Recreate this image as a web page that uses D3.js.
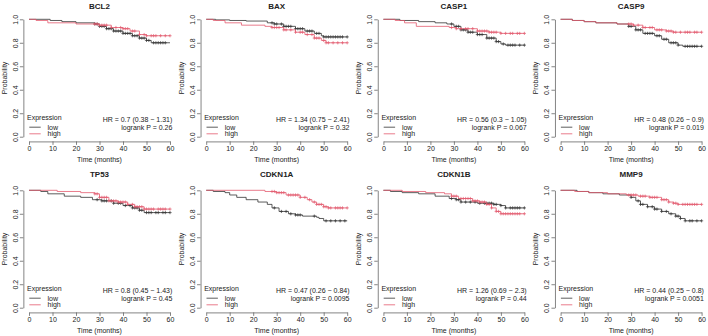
<!DOCTYPE html>
<html lang="en">
<head>
<meta charset="UTF-8">
<title>KM curves</title>
<script src="https://d3js.org/d3.v7.min.js"></script>
<style>
  body { margin: 0; background: #fff; }
  svg text { font-family: "Liberation Sans", Arial, sans-serif; fill: #222; }
</style>
</head>
<body>
<div id="chart"></div>
<script>
// panel titles and stats
var genes = ["BCL2", "BAX", "CASP1", "CASP9", "TP53", "CDKN1A", "CDKN1B", "MMP9"];
var hrText = ["0.7 (0.38 \u2212 1.31)", "1.34 (0.75 \u2212 2.41)", "0.56 (0.3 \u2212 1.05)", "0.48 (0.26 \u2212 0.9)",
              "0.8 (0.45 \u2212 1.43)", "0.47 (0.26 \u2212 0.84)", "1.26 (0.69 \u2212 2.3)", "0.44 (0.25 \u2212 0.8)"];
var pText = ["0.26", "0.32", "0.067", "0.019", "0.45", "0.0095", "0.44", "0.0051"];

var xTicks = [0, 10, 20, 30, 40, 50, 60];
var yTicks = [0, 0.2, 0.4, 0.6, 0.8, 1.0];

// step curves [time, survival]
var lowSteps = [
  [[0,1],[9,0.99],[14,0.98],[20,0.97],[28,0.96],[30,0.94],[33,0.92],[36,0.90],[40,0.88],[44,0.86],[47,0.84],[50,0.82],[52,0.80],[60,0.80]],
  [[0,1],[4,0.995],[10,0.99],[17,0.985],[26,0.97],[29,0.96],[33,0.94],[38,0.92],[42,0.90],[46,0.88],[49,0.86],[50,0.85],[60,0.85]],
  [[0,1],[7,0.99],[15,0.98],[22,0.97],[27,0.96],[30,0.94],[33,0.91],[36,0.89],[40,0.87],[44,0.84],[48,0.81],[50,0.79],[52,0.78],[60,0.78]],
  [[0,1],[5,0.99],[10,0.98],[15,0.97],[24,0.96],[29,0.94],[32,0.91],[35,0.88],[40,0.86],[43,0.83],[46,0.80],[50,0.78],[52,0.77],[60,0.77]],
  [[0,1],[5,0.99],[8,0.97],[15,0.95],[22,0.94],[27,0.92],[31,0.91],[36,0.89],[40,0.87],[44,0.85],[47,0.83],[49,0.81],[60,0.81]],
  [[0,1],[3,0.99],[8,0.98],[10,0.96],[13,0.94],[17,0.92],[22,0.90],[26,0.88],[28,0.85],[31,0.82],[35,0.80],[38,0.79],[41,0.78],[47,0.77],[48,0.76],[50,0.74],[60,0.74]],
  [[0,1],[3,0.99],[8,0.98],[15,0.97],[22,0.95],[28,0.93],[31,0.92],[33,0.90],[40,0.89],[47,0.88],[50,0.87],[52,0.85],[60,0.85]],
  [[0,1],[7,0.99],[12,0.98],[18,0.97],[25,0.96],[30,0.94],[32,0.91],[34,0.88],[37,0.86],[40,0.84],[43,0.82],[46,0.80],[49,0.78],[51,0.76],[53,0.74],[60,0.74]]
];
var highSteps = [
  [[0,1],[3,0.99],[8,0.97],[20,0.96],[30,0.95],[35,0.93],[40,0.92],[43,0.90],[47,0.87],[50,0.86],[60,0.86]],
  [[0,1],[3,0.99],[8,0.97],[15,0.95],[25,0.94],[28,0.93],[33,0.91],[38,0.89],[42,0.87],[46,0.84],[49,0.82],[51,0.80],[60,0.80]],
  [[0,1],[5,0.99],[9,0.97],[14,0.94],[28,0.93],[31,0.92],[40,0.90],[45,0.89],[50,0.88],[60,0.88]],
  [[0,1],[5,0.99],[10,0.98],[15,0.97],[24,0.96],[31,0.95],[35,0.93],[40,0.91],[45,0.90],[48,0.89],[60,0.89]],
  [[0,1],[12,0.99],[22,0.98],[28,0.97],[30,0.94],[34,0.91],[38,0.90],[42,0.88],[45,0.86],[49,0.84],[60,0.84]],
  [[0,1],[25,0.99],[30,0.98],[34,0.96],[40,0.94],[43,0.92],[45,0.90],[47,0.88],[50,0.86],[52,0.85],[60,0.85]],
  [[0,1],[8,0.99],[18,0.98],[26,0.97],[29,0.95],[32,0.93],[38,0.91],[41,0.90],[44,0.88],[46,0.85],[48,0.82],[50,0.80],[60,0.80]],
  [[0,1],[6,0.99],[12,0.98],[20,0.97],[28,0.96],[33,0.95],[38,0.94],[43,0.92],[46,0.90],[48,0.89],[50,0.88],[60,0.88]]
];

// censoring times (months)
var lowCensor = [
  [28,29,30,31,32,33,34,35,36,37,38,39,40,41,42,43,44,45,46,47,48,49,50,51,53,54,55,56,57,58],
  [28,29,30,32,33,34,35,36,38,39,40,41,43,44,45,47,48,50,51,52,53,54,55,56,57,58,60],
  [29,31,32,33,34,35,36,37,38,40,41,42,44,45,46,47,48,49,51,53,54,55,56,58,60],
  [29,30,32,33,34,36,37,38,39,41,42,44,45,47,48,49,50,53,54,55,56,57,58,60],
  [29,31,32,33,35,36,38,39,41,43,44,45,46,47,48,50,51,52,54,55,57,58,60],
  [29,32,34,36,38,39,40,46,51,53,55,57,59],
  [29,31,32,33,35,37,39,41,43,44,45,46,47,48,50,52,54,55,56,57,58,60],
  [30,33,34,35,37,39,40,41,43,45,47,49,50,51,53,55,56,58,60]
];
var highCensor = [
  [28,29,30,31,32,33,35,37,39,40,41,42,44,45,47,49,50,52,53,54,56,58,60],
  [28,29,30,31,33,34,36,38,40,41,43,45,46,47,48,50,51,52,54,56,58,60],
  [29,31,33,35,36,38,40,41,42,43,44,45,46,47,48,50,52,54,55,57,58,60],
  [29,30,31,33,35,36,38,39,41,42,43,45,46,47,48,49,51,53,54,55,57,58,60],
  [28,29,30,31,32,33,34,35,36,37,38,39,40,41,42,44,45,46,47,48,49,50,51,52,53,55,56,57,58,60],
  [28,29,30,31,32,33,35,36,37,38,39,40,42,44,46,47,48,49,50,51,52,53,55,56,57,58,60],
  [29,30,31,33,34,35,36,37,38,39,40,41,42,43,44,45,46,48,49,50,51,52,53,54,55,56,57,58,60],
  [29,30,31,32,34,35,36,38,39,40,41,43,44,45,46,48,49,50,52,53,54,55,56,57,58,60]
];

var lowColor = "#333333", highColor = "#e35a6e";

var W = 708, H = 336;
var svg = d3.select("#chart").append("svg").attr("width", W).attr("height", H);

var colStep = 177.2, rowOffsets = [0, 171], titleY = [8.6, 5.6];

var x = d3.scaleLinear().domain([0, 60]).range([29, 170]);
var y = d3.scaleLinear().domain([0, 1]).range([136.7, 19.3]);
var left = x(-2.4), right = x(62.4), top = y(1.04), bottom = y(-0.04);

var line = d3.line().x(d => x(d[0])).y(d => y(d[1])).curve(d3.curveStepAfter);
var bis = d3.bisector(d => d[0]).right;
function survAt(steps, t) { return steps[Math.max(0, bis(steps, t) - 1)][1]; }

genes.forEach(function(g, i) {
  var col = i % 4, row = Math.floor(i / 4);
  var p = svg.append("g").attr("transform", "translate(" + (col * colStep) + "," + rowOffsets[row] + ")");

  // title
  p.append("text").attr("x", (left + right) / 2).attr("y", titleY[row])
    .attr("text-anchor", "middle").style("font-size", "8px").style("font-weight", "bold").text(g);

  // curves
  [[lowSteps[i], lowCensor[i], lowColor], [highSteps[i], highCensor[i], highColor]].forEach(function(s) {
    p.append("path").attr("d", line(s[0])).attr("fill", "none")
      .attr("stroke", s[2]).attr("stroke-width", 0.8);
    p.append("g").selectAll("path").data(s[1]).enter().append("path")
      .attr("transform", t => "translate(" + x(t) + "," + y(survAt(s[0], t)) + ")")
      .attr("d", "M-1.6,0h3.2M0,-1.6v3.2")
      .attr("stroke", s[2]).attr("stroke-width", 0.7);
  });

  // box
  p.append("rect").attr("x", left).attr("y", top).attr("width", right - left).attr("height", bottom - top)
    .attr("fill", "none").attr("stroke", "#666").attr("stroke-width", 0.8);

  // x axis
  var xa = p.append("g").attr("transform", "translate(0," + bottom + ")")
    .call(d3.axisBottom(x).tickValues(xTicks).tickSize(3.5).tickSizeOuter(0).tickPadding(1.2));
  xa.selectAll("text").style("font-size", "7px").attr("fill", "#333");

  // y axis
  var ya = p.append("g").attr("transform", "translate(" + left + ",0)")
    .call(d3.axisLeft(y).tickValues(yTicks).tickSize(3.5).tickSizeOuter(0).tickFormat(d3.format(".1f")));
  ya.selectAll("text").attr("transform", "rotate(-90)").attr("x", 0).attr("y", -5.8).attr("dy", 0)
    .attr("text-anchor", "middle").style("font-size", "7px").attr("fill", "#333");

  [xa, ya].forEach(function(a) {
    a.selectAll("line, path").attr("stroke", "#666").attr("stroke-width", 0.8);
  });

  // axis labels
  p.append("text").attr("x", (x(0) + x(60)) / 2).attr("y", 162.2).attr("text-anchor", "middle")
    .style("font-size", "7px").text("Time (months)");
  p.append("text").attr("transform", "translate(6.6," + y(0.5) + ") rotate(-90)").attr("text-anchor", "middle")
    .style("font-size", "7px").text("Probability");

  // legend
  p.append("text").attr("x", 27).attr("y", 119.6).style("font-size", "7px").text("Expression");
  [["low", lowColor, 127.2], ["high", highColor, 133.8]].forEach(function(l) {
    p.append("line").attr("x1", 29.3).attr("x2", 40.7).attr("y1", l[2]).attr("y2", l[2])
      .attr("stroke", l[1]).attr("stroke-width", 0.8);
    p.append("text").attr("x", 47.5).attr("y", l[2] + 2.4).style("font-size", "7px").text(l[0]);
  });

  // stats
  p.append("text").attr("x", 172.3).attr("y", 121.6).attr("text-anchor", "end")
    .style("font-size", "7px").text("HR = " + hrText[i]);
  p.append("text").attr("x", 172.3).attr("y", 130.3).attr("text-anchor", "end")
    .style("font-size", "7px").text("logrank P = " + pText[i]);
});
</script>
</body>
</html>
